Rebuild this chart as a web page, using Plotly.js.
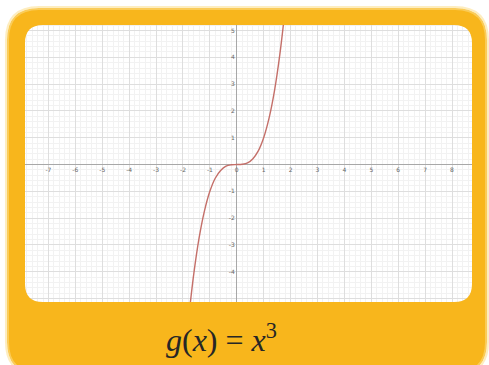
<!DOCTYPE html>
<html>
<head>
<meta charset="utf-8">
<script src="https://cdn.plot.ly/plotly-3.0.1.min.js"></script>
<style>
html,body{margin:0;padding:0;background:#fff;}
#chart{width:489px;height:365px;}
</style>
</head>
<body>
<div id="chart"></div>
<script>
// Curve g(x) = x^3
var curveX = [-1.8, -1.6, -1.4, -1.2, -1.0, -0.8, -0.6, -0.4, -0.2, 0, 0.2, 0.4, 0.6, 0.8, 1.0, 1.2, 1.4, 1.6, 1.8];
var curveY = [-5.83, -4.10, -2.74, -1.73, -1.00, -0.51, -0.22, -0.06, -0.01, 0, 0.01, 0.06, 0.22, 0.51, 1.00, 1.73, 2.74, 4.10, 5.83];

// Tick labels
var xTickVals = [-8, -7, -6, -5, -4, -3, -2, -1, 0, 1, 2, 3, 4, 5, 6, 7, 8, 9];
var xTickText = [' ', '-7', '-6', '-5', '-4', '-3', '-2', '-1', '0', '1', '2', '3', '4', '5', '6', '7', '8', ' '];
var yTickVals = [-7, -6, -5, -4, -3, -2, -1, 0, 1, 2, 3, 4, 5, 6];
var yTickText = [' ', ' ', ' ', '-4', '-3', '-2', '-1', ' ', '1', '2', '3', '4', '5', ' '];

var labelText = '<i>g</i>(<i>x</i>)&nbsp;=&nbsp;<i>x</i><sup>3</sup>';

var W = 489, H = 365;
var xRange = [-8.80, 9.375];
var yRange = [-7.48, 6.14];

function px(x) { return (x / W).toFixed(5); }
function py(y) { return (1 - y / H).toFixed(5); }
function rr(x0, y0, x1, y1, r) {
  return 'M' + px(x0 + r) + ',' + py(y0) +
    ' L' + px(x1 - r) + ',' + py(y0) +
    ' Q' + px(x1) + ',' + py(y0) + ' ' + px(x1) + ',' + py(y0 + r) +
    ' L' + px(x1) + ',' + py(y1 - r) +
    ' Q' + px(x1) + ',' + py(y1) + ' ' + px(x1 - r) + ',' + py(y1) +
    ' L' + px(x0 + r) + ',' + py(y1) +
    ' Q' + px(x0) + ',' + py(y1) + ' ' + px(x0) + ',' + py(y1 - r) +
    ' L' + px(x0) + ',' + py(y0 + r) +
    ' Q' + px(x0) + ',' + py(y0) + ' ' + px(x0 + r) + ',' + py(y0) + ' Z';
}
var fullRect = 'M-0.01,-0.01 L1.01,-0.01 L1.01,1.01 L-0.01,1.01 Z ';
var outer = rr(7, 8, 487, 374, 32);
var inner = rr(25, 25, 472, 302, 18);

var trace = {
  x: curveX, y: curveY, type: 'scatter', mode: 'lines',
  line: {color: '#c46f69', width: 1.4, shape: 'spline', smoothing: 1},
  hoverinfo: 'skip'
};

var axisCommon = {
  showgrid: true, gridcolor: '#dedede', gridwidth: 1,
  minor: {dtick: 0.2, showgrid: true, gridcolor: '#f2f2f2', gridwidth: 1, ticks: ''},
  tickmode: 'array', ticks: '', ticklen: 0,
  tickfont: {family: 'DejaVu Sans', size: 6, color: '#666'},
  showline: false, fixedrange: true
};

var layout = {
  width: W, height: H,
  margin: {l: 0, r: 0, t: 0, b: 0, pad: 0},
  paper_bgcolor: '#ffffff', plot_bgcolor: '#ffffff',
  showlegend: false,
  xaxis: Object.assign({}, axisCommon, {
    range: xRange, tickvals: xTickVals, ticktext: xTickText,
    anchor: 'free', position: (0 - yRange[0]) / (yRange[1] - yRange[0]),
    zeroline: true, zerolinecolor: '#a8a8a8', zerolinewidth: 1.3
  }),
  yaxis: Object.assign({}, axisCommon, {
    range: yRange, tickvals: yTickVals, ticktext: yTickText,
    anchor: 'free', position: (0 - xRange[0]) / (xRange[1] - xRange[0]),
    zeroline: true, zerolinecolor: '#a8a8a8', zerolinewidth: 1.3,
    ticklabelstandoff: 2
  }),
  shapes: [
    {type: 'path', xref: 'paper', yref: 'paper', layer: 'above',
     path: outer + ' ' + inner, fillrule: 'evenodd',
     fillcolor: '#f8b61c', line: {width: 0}},
    {type: 'path', xref: 'paper', yref: 'paper', layer: 'above',
     path: fullRect + outer, fillrule: 'evenodd',
     fillcolor: '#ffffff', line: {width: 0}},
    {type: 'path', xref: 'paper', yref: 'paper', layer: 'above',
     path: outer, fillcolor: 'rgba(0,0,0,0)',
     line: {color: 'rgba(252,222,140,0.55)', width: 4}}
  ],
  annotations: [{
    xref: 'paper', yref: 'paper', x: 221 / W, y: 1 - 338 / H,
    xanchor: 'center', yanchor: 'middle', showarrow: false,
    text: labelText,
    font: {family: 'Liberation Serif', size: 32, color: '#262626'}
  }]
};

Plotly.newPlot('chart', [trace], layout, {staticPlot: true, displayModeBar: false});
</script>
</body>
</html>
